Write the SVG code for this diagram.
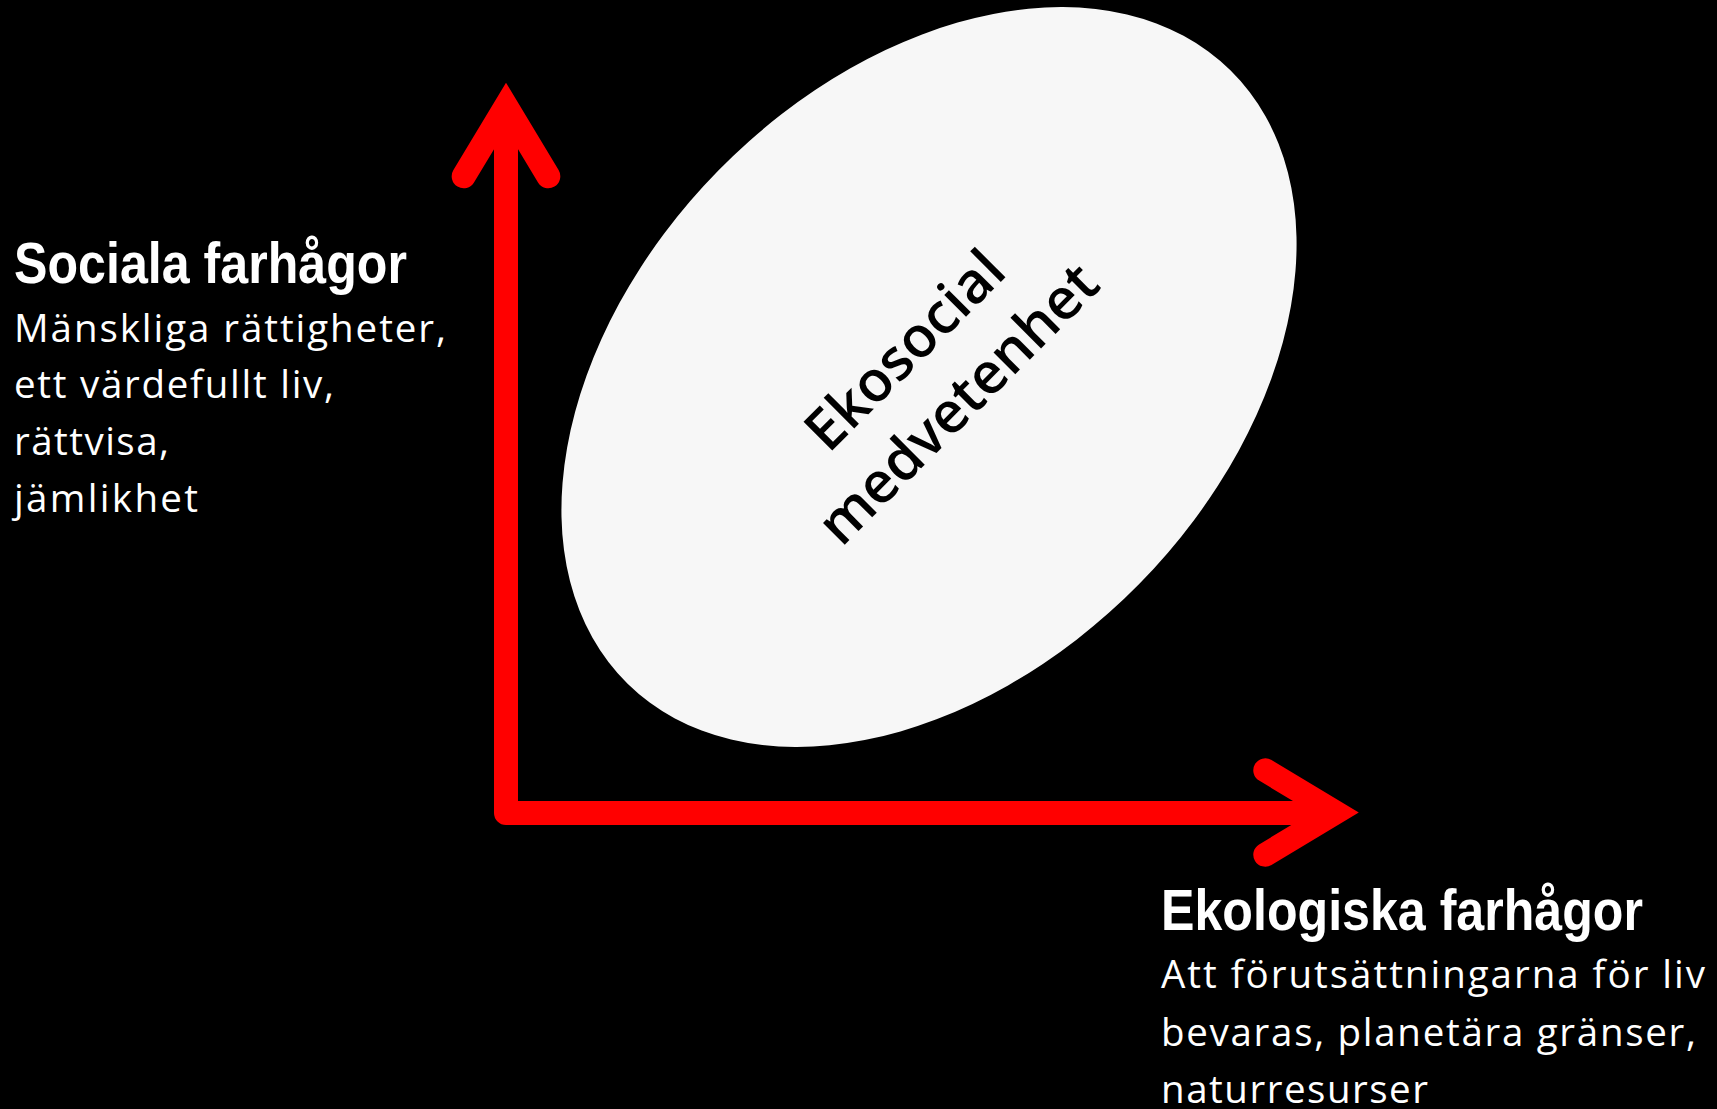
<svg xmlns="http://www.w3.org/2000/svg" width="1717" height="1109" viewBox="0 0 1717 1109">
<style>
.title{font-family:"Liberation Sans",Arial,sans-serif;font-weight:bold;font-size:58px;fill:#fff}
.body{font-family:"Open Sans","Noto Sans",sans-serif;font-size:38.5px;fill:#fff}
.axis{fill:none;stroke:#ff0000;stroke-width:24;stroke-linecap:round}
.node-text{font-family:"Open Sans","Noto Sans",sans-serif;font-weight:600;font-size:57px;fill:#000;text-anchor:middle}
</style>
<rect x="0" y="0" width="1717" height="1109" fill="#000"/>
<g id="ekosocial">
<ellipse cx="929" cy="377" rx="430" ry="295" transform="rotate(-45.5 929 377)" fill="#f7f7f7"/>
<text class="node-text" transform="rotate(-45)"><tspan x="392" y="907">Ekosocial</tspan><tspan x="392" y="982.5">medvetenhet</tspan></text>
</g>
<g id="connectors">
<path class="axis" d="M506,110 L506,813 L1330,813" stroke-linejoin="round"/>
<path class="axis" d="M463.7,176.3 L506,106 L548.3,176.3" stroke-linejoin="miter"/>
<path class="axis" d="M1265.3,770.3 L1335.5,812.5 L1265.3,854.7" stroke-linejoin="miter"/>
</g>
<g id="social-label">
<text class="title" x="14" y="283" textLength="393" lengthAdjust="spacingAndGlyphs">Sociala farhågor</text>
<text class="body" x="14" y="341.7" textLength="432" lengthAdjust="spacing">Mänskliga rättigheter,</text>
<text class="body" x="14" y="398" textLength="320" lengthAdjust="spacing">ett värdefullt liv,</text>
<text class="body" x="14" y="455" textLength="155" lengthAdjust="spacing">rättvisa,</text>
<text class="body" x="14" y="512" textLength="184" lengthAdjust="spacing">jämlikhet</text>
</g>
<g id="eco-label">
<text class="title" x="1161" y="930" textLength="482" lengthAdjust="spacingAndGlyphs">Ekologiska farhågor</text>
<text class="body" x="1161" y="988" textLength="544" lengthAdjust="spacing">Att förutsättningarna för liv</text>
<text class="body" x="1161" y="1046" textLength="535" lengthAdjust="spacing">bevaras, planetära gränser,</text>
<text class="body" x="1161" y="1103" textLength="267" lengthAdjust="spacing">naturresurser</text>
</g>
</svg>
